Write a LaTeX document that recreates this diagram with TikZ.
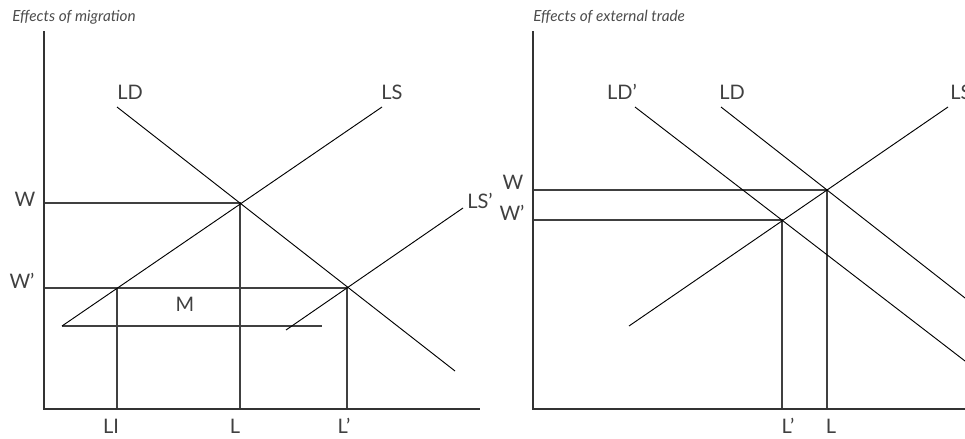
\documentclass[tikz,border=0pt]{standalone}
\usepackage{fontspec}
\setmainfont{Lato}
\tikzset{
  axis/.style={line width=0.85pt,black!80},
  curve/.style={line width=0.7pt,black},
  guide/.style={line width=0.8pt,black!75},
  lbl/.style={text=black!75,font=\fontsize{15}{17}\selectfont,inner sep=0pt},
  ttl/.style={text=black!70,font=\itshape\fontsize{11.5}{13}\selectfont,inner sep=0pt,anchor=west},
}

\begin{document}
\begin{tikzpicture}[x=0.75pt,y=-0.75pt]
\useasboundingbox (0,0) rectangle (965,439);
% left: migration
\begin{scope}
  \coordinate (mO) at (44,409); \coordinate (mTop) at (44,31); \coordinate (mEnd) at (480,409);
  \coordinate (mLDa) at (117,107); \coordinate (mLDb) at (455,371);
  \coordinate (mLSa) at (62,326); \coordinate (mLSb) at (382,107);
  \coordinate (mLSpa) at (286,330); \coordinate (mLSpb) at (463,208);
  \coordinate (mE) at (240,203); \coordinate (mEp) at (347,288); \coordinate (mEi) at (117,288);
  \coordinate (mMend) at (322,326);
  \draw[guide] (mE -| mO) -- (mE) -- (mE |- mO);
  \draw[guide] (mEp -| mO) -- (mEp) -- (mEp |- mO);
  \draw[guide] (mEi) -- (mEi |- mO);
  \draw[guide] (mLSa) -- (mMend);
  \draw[curve] (mLDa) -- (mLDb);
  \draw[curve] (mLSa) -- (mLSb);
  \draw[curve] (mLSpa) -- (mLSpb);
  \draw[axis] (mTop) -- (mO) -- (mEnd);
  \node[ttl] (mTitle) at (12,17) {Effects of migration};
  \node[lbl] (mW) at (25,199) {W};
  \node[lbl] (mWp) at (22,281) {W'};
  \node[lbl] (mLD) at (130,92) {LD};
  \node[lbl] (mLS) at (392,92) {LS};
  \node[lbl,anchor=west] (mLSp) at (467,201) {LS'};
  \node[lbl] (mM) at (185,304) {M};
  \node[lbl] (mLI) at (111,426) {LI};
  \node[lbl] (mL) at (235,426) {L};
  \node[lbl] (mLp) at (344,426) {L'};
\end{scope}
% right: external trade
\begin{scope}
  \coordinate (tO) at (533,409); \coordinate (tTop) at (533,31); \coordinate (tEnd) at (965,409);
  \coordinate (tLDa) at (721,107); \coordinate (tLDb) at (965,298);
  \coordinate (tLDpa) at (635,107); \coordinate (tLDpb) at (965,361);
  \coordinate (tLSa) at (629,326); \coordinate (tLSb) at (948,107);
  \coordinate (tE) at (827,190); \coordinate (tEp) at (782,220);
  \draw[guide] (tE -| tO) -- (tE) -- (tE |- tO);
  \draw[guide] (tEp -| tO) -- (tEp) -- (tEp |- tO);
  \draw[curve] (tLDa) -- (tLDb);
  \draw[curve] (tLDpa) -- (tLDpb);
  \draw[curve] (tLSa) -- (tLSb);
  \draw[axis] (tTop) -- (tO) -- (tEnd);
  \node[ttl] (tTitle) at (533,17) {Effects of external trade};
  \node[lbl] (tW) at (513,182) {W};
  \node[lbl] (tWp) at (512,213) {W'};
  \node[lbl] (tLDp) at (622,92) {LD'};
  \node[lbl] (tLD) at (732,92) {LD};
  \node[lbl,anchor=west] (tLS) at (950,92) {LS};
  \node[lbl] (tLp) at (788,426) {L'};
  \node[lbl] (tL) at (831,426) {L};
\end{scope}
\end{tikzpicture}
\end{document}
